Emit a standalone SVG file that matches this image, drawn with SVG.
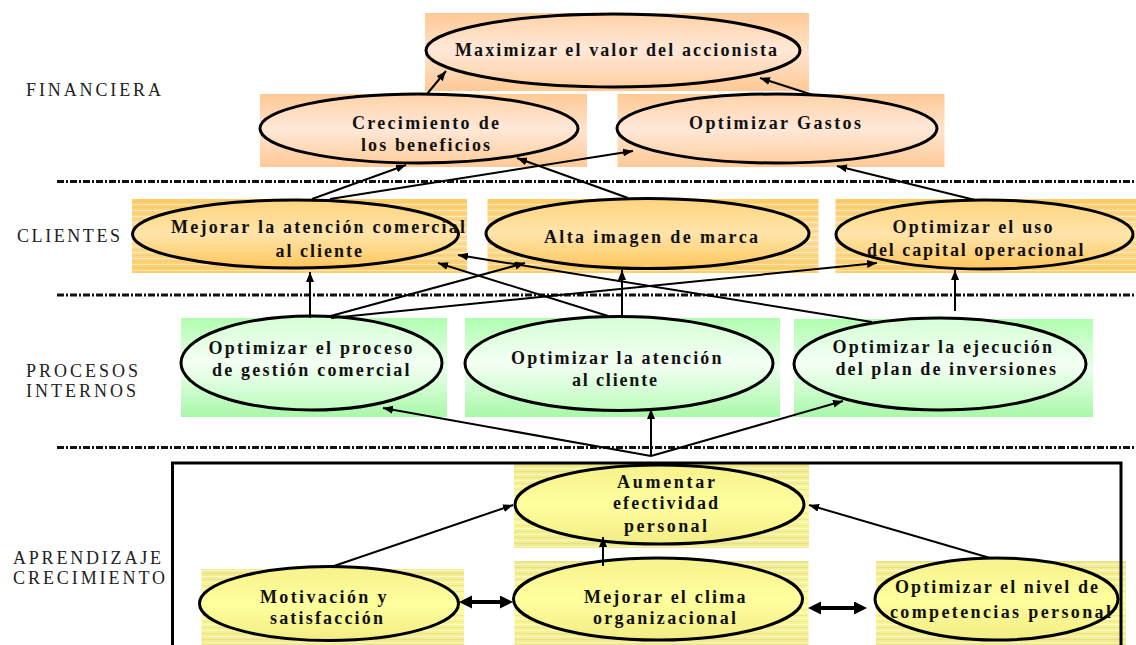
<svg xmlns="http://www.w3.org/2000/svg" width="1136" height="645" viewBox="0 0 1136 645">
  <defs>
    <style>
      .lbl { font-family: "Liberation Serif", "Times New Roman", serif; font-size: 18px; fill: #222; }
      .txt { font-family: "Liberation Serif", "Times New Roman", serif; font-size: 18px; font-weight: bold; fill: #111; }
      .ell { stroke: #000; stroke-width: 3; }
      .sep { stroke: #111; stroke-width: 3; stroke-dasharray: 7 2 2 2; fill: none; }
      .con { stroke: #000; stroke-width: 2; fill: none; marker-end: url(#arr); }
      .dbl { stroke: #000; stroke-width: 4; fill: none; marker-start: url(#big); marker-end: url(#big); }
      .stripe { fill: url(#stripes); }
    </style>
    <!-- section fills -->
    <linearGradient id="finRect" x1="0" y1="0" x2="0" y2="1">
      <stop offset="0" stop-color="#FFC995"/>
      <stop offset="0.5" stop-color="#FFE4CE"/>
      <stop offset="1" stop-color="#FFC995"/>
    </linearGradient>
    <linearGradient id="finEll" x1="0" y1="0" x2="0" y2="1">
      <stop offset="0" stop-color="#FFD2A8"/>
      <stop offset="0.5" stop-color="#FFE8D8"/>
      <stop offset="1" stop-color="#FFCFA0"/>
    </linearGradient>
    <linearGradient id="cliRect" x1="0" y1="0" x2="0" y2="1">
      <stop offset="0" stop-color="#FFCC66"/>
      <stop offset="0.5" stop-color="#FFE0A2"/>
      <stop offset="1" stop-color="#FFCC66"/>
    </linearGradient>
    <linearGradient id="cliEll" x1="0" y1="0" x2="0" y2="1">
      <stop offset="0" stop-color="#FFD47E"/>
      <stop offset="0.5" stop-color="#FFE4AA"/>
      <stop offset="1" stop-color="#FFC65C"/>
    </linearGradient>
    <linearGradient id="proRect" x1="0" y1="0" x2="0" y2="1">
      <stop offset="0" stop-color="#B0FFB0"/>
      <stop offset="0.5" stop-color="#EAFFEA"/>
      <stop offset="1" stop-color="#A8F8A8"/>
    </linearGradient>
    <linearGradient id="proEll" x1="0" y1="0" x2="0" y2="1">
      <stop offset="0" stop-color="#D4FFD4"/>
      <stop offset="0.5" stop-color="#F4FFF4"/>
      <stop offset="1" stop-color="#BDFCBD"/>
    </linearGradient>
    <linearGradient id="aprRect" x1="0" y1="0" x2="0" y2="1">
      <stop offset="0" stop-color="#EFEA8E"/>
      <stop offset="0.5" stop-color="#FFFF9C"/>
      <stop offset="1" stop-color="#EFEA8E"/>
    </linearGradient>
    <linearGradient id="aprEll" x1="0" y1="0" x2="0" y2="1">
      <stop offset="0" stop-color="#F6F28C"/>
      <stop offset="0.5" stop-color="#FFFF9E"/>
      <stop offset="1" stop-color="#F2EC84"/>
    </linearGradient>
    <!-- horizontal banding on the shaded boxes -->
    <pattern id="stripes" patternUnits="userSpaceOnUse" width="8" height="6">
      <rect x="0" y="0" width="8" height="1" fill="#FFFFFF" opacity="0.5"/>
      <rect x="0" y="3" width="8" height="1" fill="#C8B870" opacity="0.22"/>
    </pattern>
    <marker id="arr" markerUnits="userSpaceOnUse" markerWidth="11" markerHeight="9" refX="10" refY="4" orient="auto">
      <path d="M0,0 L10,4 L0,8 z" fill="#000"/>
    </marker>
    <marker id="big" markerUnits="userSpaceOnUse" markerWidth="14" markerHeight="14" refX="7" refY="6.5" orient="auto-start-reverse">
      <path d="M0,0 L13,6.5 L0,13 z" fill="#000"/>
    </marker>
  </defs>

  <rect width="1136" height="645" fill="#FFFFFF"/>

  <!-- perspective labels -->
  <g id="labels" class="lbl">
    <text x="26" y="95.5" textLength="135" lengthAdjust="spacing">FINANCIERA</text>
    <text x="17" y="241.5" textLength="103" lengthAdjust="spacing">CLIENTES</text>
    <text x="26" y="376.5" textLength="112" lengthAdjust="spacing">PROCESOS</text>
    <text x="26" y="396.5" textLength="110" lengthAdjust="spacing">INTERNOS</text>
    <text x="13" y="563.5" textLength="148" lengthAdjust="spacing">APRENDIZAJE</text>
    <text x="13" y="583.5" textLength="152" lengthAdjust="spacing">CRECIMIENTO</text>
  </g>

  <!-- section dividers -->
  <g id="dividers">
    <line class="sep" x1="57" y1="181.5" x2="1136" y2="181.5"/>
    <line class="sep" x1="57" y1="295" x2="1136" y2="295"/>
    <line class="sep" x1="57" y1="447.5" x2="1136" y2="447.5"/>
  </g>

  <!-- FINANCIERA -->
  <g id="n-maximizar">
    <rect x="425" y="13" width="384" height="78" fill="url(#finRect)"/>
    <ellipse class="ell" cx="613" cy="50.5" rx="187" ry="36.5" fill="url(#finEll)"/>
    <text class="txt" x="455" y="56" textLength="322" lengthAdjust="spacing">Maximizar el valor del accionista</text>
  </g>
  <g id="n-crecimiento">
    <rect x="260" y="94" width="327" height="73" fill="url(#finRect)"/>
    <ellipse class="ell" cx="419" cy="128.5" rx="159" ry="34.5" fill="url(#finEll)"/>
    <text class="txt" x="352" y="129" textLength="147" lengthAdjust="spacing">Crecimiento de</text>
    <text class="txt" x="361" y="151" textLength="129" lengthAdjust="spacing">los beneficios</text>
  </g>
  <g id="n-gastos">
    <rect x="617.5" y="94" width="327" height="73" fill="url(#finRect)"/>
    <ellipse class="ell" cx="777" cy="128.5" rx="160" ry="34.5" fill="url(#finEll)"/>
    <text class="txt" x="689" y="129" textLength="172" lengthAdjust="spacing">Optimizar Gastos</text>
  </g>

  <!-- CLIENTES -->
  <g id="n-atencion-comercial">
    <rect x="132" y="199" width="335" height="74" fill="url(#cliRect)"/>
    <rect class="stripe" x="132" y="199" width="335" height="74"/>
    <ellipse class="ell" cx="295.5" cy="234" rx="163" ry="34" fill="url(#cliEll)"/>
    <text class="txt" x="171" y="232.5" textLength="294" lengthAdjust="spacing">Mejorar la atención comercial</text>
    <text class="txt" x="275.5" y="256.5" textLength="86.5" lengthAdjust="spacing">al cliente</text>
  </g>
  <g id="n-imagen">
    <rect x="487.5" y="199" width="331" height="74" fill="url(#cliRect)"/>
    <rect class="stripe" x="487.5" y="199" width="331" height="74"/>
    <ellipse class="ell" cx="647.5" cy="233.5" rx="161.5" ry="35" fill="url(#cliEll)"/>
    <text class="txt" x="544" y="242.5" textLength="214" lengthAdjust="spacing">Alta imagen de marca</text>
  </g>
  <g id="n-capital">
    <rect x="835.5" y="199" width="300.5" height="74" fill="url(#cliRect)"/>
    <rect class="stripe" x="835.5" y="199" width="300.5" height="74"/>
    <ellipse class="ell" cx="984.5" cy="234.5" rx="148.5" ry="34.5" fill="url(#cliEll)"/>
    <text class="txt" x="892.5" y="232.5" textLength="160" lengthAdjust="spacing">Optimizar el uso</text>
    <text class="txt" x="867" y="255.5" textLength="216.5" lengthAdjust="spacing">del capital operacional</text>
  </g>

  <!-- PROCESOS INTERNOS -->
  <g id="n-proceso-comercial">
    <rect x="181" y="318" width="266" height="99" fill="url(#proRect)"/>
    <ellipse class="ell" cx="311.5" cy="363" rx="130.5" ry="47" fill="url(#proEll)"/>
    <text class="txt" x="208.5" y="353.5" textLength="204" lengthAdjust="spacing">Optimizar el proceso</text>
    <text class="txt" x="212" y="375.5" textLength="197.5" lengthAdjust="spacing">de gestión comercial</text>
  </g>
  <g id="n-atencion-cliente">
    <rect x="465" y="318" width="315" height="99" fill="url(#proRect)"/>
    <ellipse class="ell" cx="619" cy="363.5" rx="154" ry="47" fill="url(#proEll)"/>
    <text class="txt" x="511" y="363.5" textLength="210.5" lengthAdjust="spacing">Optimizar la atención</text>
    <text class="txt" x="572" y="385.5" textLength="85" lengthAdjust="spacing">al cliente</text>
  </g>
  <g id="n-inversiones">
    <rect x="794" y="319" width="299" height="98" fill="url(#proRect)"/>
    <ellipse class="ell" cx="940" cy="364" rx="146" ry="46" fill="url(#proEll)"/>
    <text class="txt" x="832.5" y="352.5" textLength="219.5" lengthAdjust="spacing">Optimizar la ejecución</text>
    <text class="txt" x="835.5" y="374.5" textLength="220.5" lengthAdjust="spacing">del plan de inversiones</text>
  </g>

  <!-- APRENDIZAJE Y CRECIMIENTO -->
  <g id="n-efectividad">
    <rect x="514" y="464" width="295" height="84" fill="url(#aprRect)"/>
    <rect class="stripe" x="514" y="464" width="295" height="84"/>
    <ellipse class="ell" cx="659.5" cy="504.5" rx="144.5" ry="39.5" fill="url(#aprEll)"/>
    <text class="txt" x="617" y="487.5" textLength="98" lengthAdjust="spacing">Aumentar</text>
    <text class="txt" x="613" y="509" textLength="105" lengthAdjust="spacing">efectividad</text>
    <text class="txt" x="624" y="531.5" textLength="83" lengthAdjust="spacing">personal</text>
  </g>
  <g id="n-motivacion">
    <rect x="201.5" y="569" width="262.5" height="76" fill="url(#aprRect)"/>
    <rect class="stripe" x="201.5" y="569" width="262.5" height="76"/>
    <ellipse class="ell" cx="329" cy="603.5" rx="129.5" ry="37" fill="url(#aprEll)"/>
    <text class="txt" x="260" y="602.5" textLength="126.5" lengthAdjust="spacing">Motivación y</text>
    <text class="txt" x="270" y="623.5" textLength="113" lengthAdjust="spacing">satisfacción</text>
  </g>
  <g id="n-clima">
    <rect x="514.5" y="561" width="294" height="84" fill="url(#aprRect)"/>
    <rect class="stripe" x="514.5" y="561" width="294" height="84"/>
    <ellipse class="ell" cx="658" cy="599" rx="144.5" ry="41" fill="url(#aprEll)"/>
    <text class="txt" x="584" y="602.5" textLength="161.5" lengthAdjust="spacing">Mejorar el clima</text>
    <text class="txt" x="593" y="623.5" textLength="143" lengthAdjust="spacing">organizacional</text>
  </g>
  <g id="n-competencias">
    <rect x="876" y="561" width="250" height="84" fill="url(#aprRect)"/>
    <rect class="stripe" x="876" y="561" width="250" height="84"/>
    <ellipse class="ell" cx="996.5" cy="599" rx="121.5" ry="41" fill="url(#aprEll)"/>
    <text class="txt" x="895" y="592.5" textLength="203" lengthAdjust="spacing">Optimizar el nivel de</text>
    <text class="txt" x="890" y="617.5" textLength="221" lengthAdjust="spacing">competencias personal</text>
  </g>

  <!-- frame around the learning perspective -->
  <g id="frame">
    <path d="M172.5,645 V463 H1121 V645" fill="none" stroke="#000" stroke-width="3"/>
  </g>

  <!-- cause-effect links -->
  <g id="connectors">
    <line class="con" x1="427" y1="94" x2="446" y2="71"/>
    <line class="con" x1="813" y1="95" x2="760" y2="78"/>
    <line class="con" x1="312" y1="199" x2="406" y2="165"/>
    <line class="con" x1="330" y1="199" x2="633" y2="151"/>
    <line class="con" x1="628" y1="198" x2="517" y2="158"/>
    <line class="con" x1="975" y1="200" x2="837" y2="166"/>
    <line class="con" x1="310" y1="318" x2="310" y2="272"/>
    <line class="con" x1="327" y1="317" x2="525" y2="263"/>
    <line class="con" x1="331" y1="318" x2="877" y2="263"/>
    <line class="con" x1="622" y1="317" x2="622" y2="270"/>
    <line class="con" x1="608" y1="316" x2="438" y2="263"/>
    <line class="con" x1="872" y1="322" x2="458" y2="255"/>
    <line class="con" x1="955" y1="311" x2="955" y2="270"/>
    <line class="con" x1="651" y1="456" x2="651" y2="409"/>
    <line class="con" x1="651" y1="456" x2="383" y2="408"/>
    <line class="con" x1="651" y1="456" x2="843" y2="401"/>
    <line class="con" x1="331" y1="567" x2="513" y2="505"/>
    <line class="con" x1="603" y1="566" x2="603" y2="537"/>
    <line class="con" x1="990" y1="558" x2="809" y2="505"/>
    <line class="dbl" x1="465" y1="602" x2="507" y2="602"/>
    <line class="dbl" x1="814" y1="608" x2="861" y2="608"/>
  </g>
</svg>
